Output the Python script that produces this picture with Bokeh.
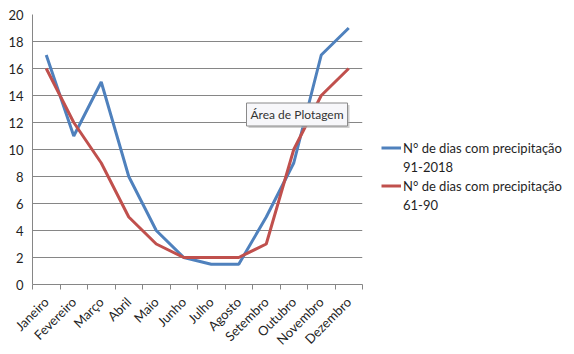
import numpy as np
from bokeh.plotting import figure
from bokeh.layouts import column
from bokeh.models import FixedTicker, Legend, LegendItem, Label, Range1d, Div
from bokeh.embed import file_html
from bokeh.resources import INLINE

months = ["Janeiro", "Fevereiro", "Março", "Abril", "Maio", "Junho", "Julho",
          "Agosto", "Setembro", "Outubro", "Novembro", "Dezembro"]
dias_91_2018 = [17, 11, 15, 8, 4, 2, 1.5, 1.5, 5, 9, 17, 19]
dias_61_90 = [16, 12, 9, 5, 3, 2, 2, 2, 3, 10, 14, 16]
legend_title = "N° de dias com precipitação"
period_91_2018 = "91-2018"
period_61_90 = "61-90"
y_ticks = list(range(0, 21, 2))

FONT = "Lato"
GRID = "#868686"
TXT = "#1f1f1f"

n = len(months)
xs = np.arange(n) + 0.5

p = figure(frame_width=330, frame_height=270, output_backend="svg", toolbar_location=None,
           x_range=Range1d(0, n), y_range=Range1d(0, 20),
           min_border_left=32, min_border_right=0, min_border_top=14, min_border_bottom=66)
p.outline_line_color = None
p.background_fill_color = "white"
p.border_fill_color = "white"

# x axis
p.xaxis.ticker = FixedTicker(ticks=list(xs), minor_ticks=list(range(0, n + 1)))
p.xaxis.major_label_overrides = {float(x): m for x, m in zip(xs, months)}
p.xaxis.major_label_orientation = np.pi / 4
p.xaxis.major_tick_line_color = None
p.xaxis.minor_tick_out = 5
p.xaxis.minor_tick_in = 0
p.xaxis.minor_tick_line_color = GRID
p.xaxis.axis_line_color = GRID
p.xaxis.major_label_text_font = FONT
p.xaxis.major_label_text_font_size = "13px"
p.xaxis.major_label_text_color = TXT
p.xaxis.major_label_standoff = 9

# y axis
p.yaxis.ticker = FixedTicker(ticks=y_ticks)
p.yaxis.major_tick_out = 0
p.yaxis.major_tick_in = 0
p.yaxis.minor_tick_line_color = None
p.yaxis.axis_line_color = GRID
p.yaxis.major_label_text_font = FONT
p.yaxis.major_label_text_font_size = "13px"
p.yaxis.major_label_text_color = TXT
p.yaxis.major_label_standoff = 9

p.xgrid.grid_line_color = None
p.ygrid.grid_line_color = GRID
p.ygrid.grid_line_width = 1

r1 = p.line(xs, dias_91_2018, line_color="#4F81BD", line_width=3)
r2 = p.line(xs, dias_61_90, line_color="#C0504D", line_width=3)
# invisible renderers used only to carry the second line of each legend label
g1 = p.line(xs, dias_91_2018, line_alpha=0)
g2 = p.line(xs, dias_61_90, line_alpha=0)

legend = Legend(items=[LegendItem(label=legend_title, renderers=[r1]),
                       LegendItem(label=period_91_2018, renderers=[g1]),
                       LegendItem(label=legend_title, renderers=[r2]),
                       LegendItem(label=period_61_90, renderers=[g2])],
                location=(19, 71))
legend.border_line_color = None
legend.background_fill_alpha = 0
legend.label_text_font = FONT
legend.label_text_font_size = "13px"
legend.label_text_color = TXT
legend.glyph_width = 20
legend.glyph_height = 17
legend.label_height = 17
legend.label_standoff = 2
legend.spacing = 2
legend.padding = 0
legend.margin = 0
p.add_layout(legend, "right")

# "Área de Plotagem" tooltip
tx = (246 - 32) / 27.5
ty = (284 - 114) / 13.5
shadow = Label(x=tx, y=ty, x_offset=2, y_offset=-2, text="Área de Plotagem",
               text_font=FONT, text_font_size="12px", text_color="rgba(0,0,0,0)",
               text_baseline="middle", text_align="left",
               background_fill_color="#b0b0b0", background_fill_alpha=0.6, padding=4)
tip = Label(x=tx, y=ty, text="Área de Plotagem",
            text_font=FONT, text_font_size="12px", text_color="#333333",
            text_baseline="middle", text_align="left",
            background_fill_color="#f7f7fa", border_line_color="#8a8a8a",
            padding=4)
p.add_layout(shadow)
p.add_layout(tip)

bottom_rule = Div(text='<div style="width:574px;height:2px;background:#a6a6a6;margin:0"></div>',
                  width=574, height=4, margin=0)
layout = column(p, bottom_rule, spacing=0)

open("out.html", "w").write(file_html(layout, INLINE))
